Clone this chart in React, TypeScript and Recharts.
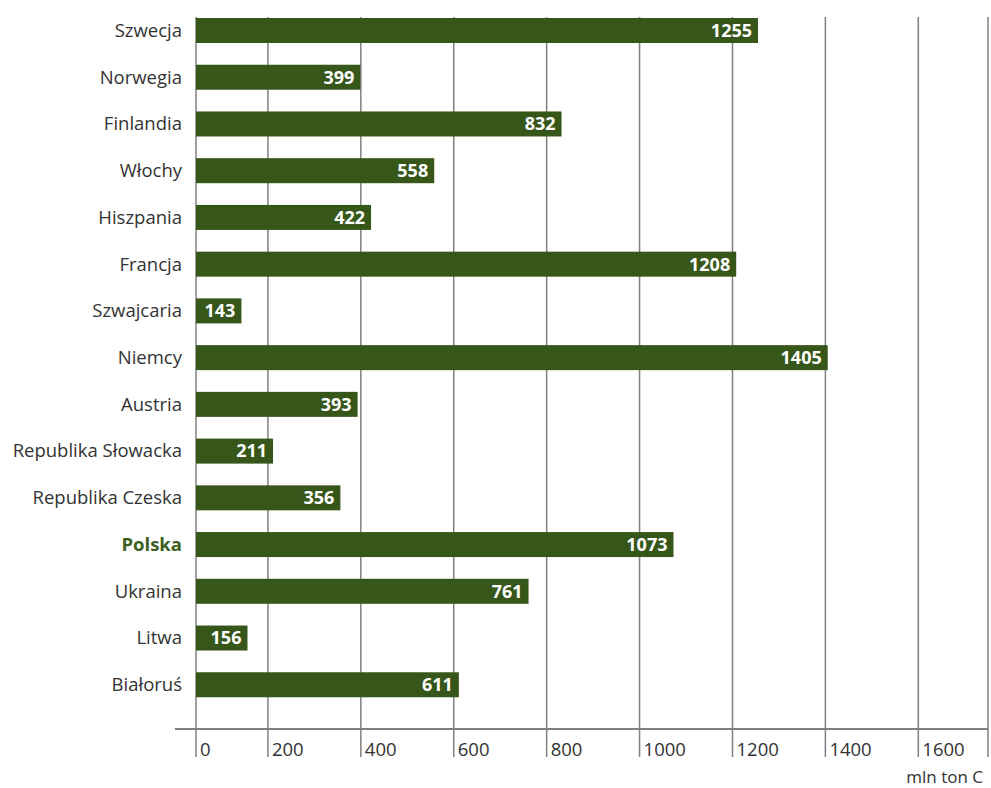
import { BarChart, Bar, XAxis, YAxis, CartesianGrid, LabelList } from "recharts";

const countries = [
  "Szwecja",
  "Norwegia",
  "Finlandia",
  "Włochy",
  "Hiszpania",
  "Francja",
  "Szwajcaria",
  "Niemcy",
  "Austria",
  "Republika Słowacka",
  "Republika Czeska",
  "Polska",
  "Ukraina",
  "Litwa",
  "Białoruś",
];
const carbonStock = [1255, 399, 832, 558, 422, 1208, 143, 1405, 393, 211, 356, 1073, 761, 156, 611];
const xTicks = [0, 200, 400, 600, 800, 1000, 1200, 1400, 1600];
const highlighted = "Polska";

const chartData = countries.map((name, i) => ({ name, value: carbonStock[i] }));

const FONT = '"Open Sans", "Noto Sans", sans-serif';
const BAR_COLOR = "#36561a";
const GRID_COLOR = "#808080";
const TEXT_COLOR = "#333333";
// the zero line is drawn a bit inside the plot, bars start from it
const AXIS_GAP = 21;

function CountryTick({ x, y, payload }: any) {
  const isHighlight = payload.value === highlighted;
  return (
    <text
      x={x + 7}
      y={y}
      dy="0.35em"
      textAnchor="end"
      fontFamily={FONT}
      fontSize={18.5}
      fontWeight={isHighlight ? 700 : 400}
      fill={isHighlight ? "#3d5f1f" : TEXT_COLOR}
    >
      {payload.value}
    </text>
  );
}

function ValueTick({ x, y, payload }: any) {
  const shift = payload.value === 0 ? AXIS_GAP : 0;
  return (
    <text x={x + shift + 4} y={y + 27} fontFamily={FONT} fontSize={18.5} fill={TEXT_COLOR}>
      {payload.value}
    </text>
  );
}

const gridLine = (props: any) => {
  const shift = props.index === 0 ? AXIS_GAP : 0;
  return (
    <line
      key={`g-${props.index}`}
      x1={props.x1 + shift}
      x2={props.x2 + shift}
      y1={props.y1 + 10}
      y2={props.y2 + 28}
      stroke={GRID_COLOR}
      strokeWidth={1.5}
    />
  );
};

const barShape = (props: any) => (
  <rect
    x={props.x + AXIS_GAP}
    y={props.y}
    width={Math.max(props.width - AXIS_GAP, 0)}
    height={props.height}
    fill={BAR_COLOR}
  />
);

export default function App() {
  return (
    <div style={{ position: "absolute", left: 0, top: 0, background: "#fff" }}>
      <BarChart
        width={991}
        height={788}
        data={chartData}
        layout="vertical"
        margin={{ top: 7, right: 3, bottom: 0, left: 0 }}
      >
        <CartesianGrid horizontal={false} vertical={gridLine} />
        <XAxis
          type="number"
          domain={[0, 1750]}
          ticks={xTicks}
          height={59}
          tick={<ValueTick />}
          tickLine={false}
          tickSize={0}
          tickMargin={0}
          axisLine={{ stroke: GRID_COLOR, strokeWidth: 2 }}
          label={{
            value: "mln ton C",
            position: "insideBottomRight",
            offset: 5,
            fill: TEXT_COLOR,
            fontSize: 17,
            fontFamily: FONT,
          }}
        />
        <YAxis
          type="category"
          dataKey="name"
          width={175}
          axisLine={false}
          tickLine={false}
          tickSize={0}
          tickMargin={0}
          interval={0}
          padding={{ top: 0, bottom: 21 }}
          tick={<CountryTick />}
        />
        <Bar dataKey="value" barSize={25} shape={barShape} isAnimationActive={false}>
          <LabelList
            dataKey="value"
            position="insideRight"
            offset={6}
            fill="#ffffff"
            fontSize={18}
            fontWeight={700}
            fontFamily={FONT}
          />
        </Bar>
      </BarChart>
    </div>
  );
}
